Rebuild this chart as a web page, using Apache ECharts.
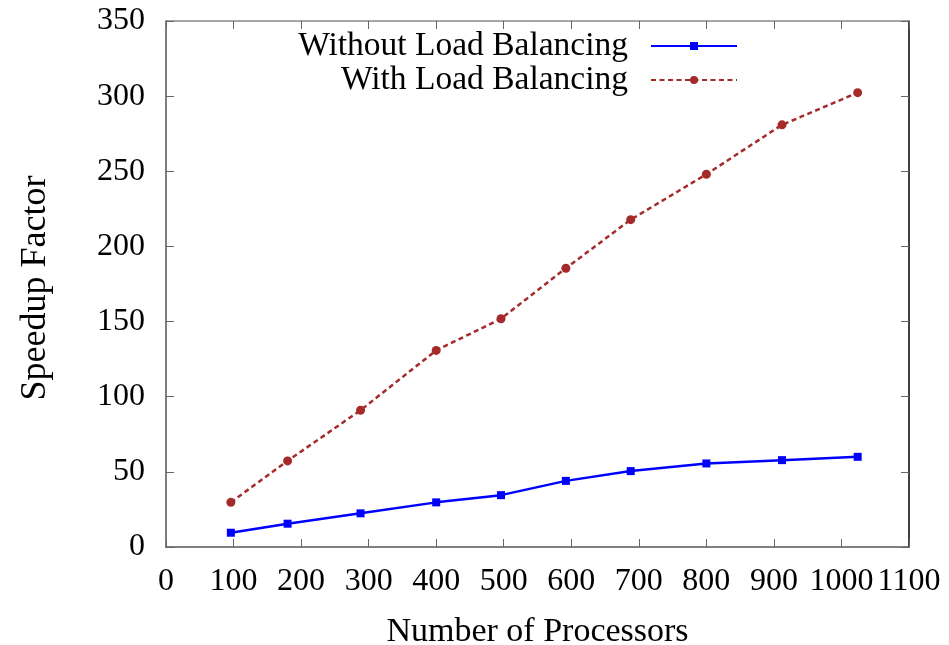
<!DOCTYPE html>
<html>
<head>
<meta charset="utf-8">
<script src="https://cdn.jsdelivr.net/npm/echarts@6/dist/echarts.min.js"></script>
<style>
  html, body { margin: 0; padding: 0; background: #fff; }
  #chart { width: 949px; height: 645px; }
</style>
</head>
<body>
<div id="chart"></div>
<script>
// Processor counts and measured speedups
const processors = [96, 180, 288, 400, 496, 592, 688, 800, 912, 1024];
const withoutLB = [9.5, 15.5, 22.4, 29.7, 34.5, 44, 50.5, 55.6, 57.8, 60];
const withLB = [29.7, 57.3, 91, 130.8, 151.9, 185.5, 217.8, 248, 280.9, 302.3];
const seriesNames = ['Without Load Balancing', 'With Load Balancing'];
const xTitle = 'Number of Processors';
const yTitle = 'Speedup Factor';

const serif = '"Liberation Serif", "DejaVu Serif", serif';

const pairs = (xs, ys) => xs.map((x, i) => [x, ys[i]]);
const plain = v => String(v);

const chart = echarts.init(document.getElementById('chart'), null, { renderer: 'canvas' });

const legendText = { fontFamily: serif, fontSize: 33.5, color: '#000', padding: [0, 18, 0, 0] };

chart.setOption({
  animation: false,
  backgroundColor: '#fff',
  grid: { left: 166, right: 40, top: 21, bottom: 98, containLabel: false, outerBoundsMode: 'none' },
  legend: [
    {
      data: [seriesNames[0]], right: 211, top: 29, orient: 'vertical', align: 'right', padding: 0,
      itemWidth: 86, itemHeight: 10, textStyle: legendText, selectedMode: false
    },
    {
      data: [seriesNames[1]], right: 211, top: 63, orient: 'vertical', align: 'right', padding: 0,
      itemWidth: 86, itemHeight: 10, textStyle: legendText, selectedMode: false
    }
  ],
  xAxis: [
    {
      type: 'value', min: 0, max: 1100, interval: 100, position: 'bottom',
      name: xTitle, nameLocation: 'middle', nameGap: 68,
      nameTextStyle: { fontFamily: serif, fontSize: 34, color: '#000' },
      axisLine: { show: true, onZero: false, lineStyle: { color: '#555', width: 1.5 } },
      axisTick: { show: true, inside: true, length: 8, lineStyle: { color: '#666', width: 1 } },
      axisLabel: {
        fontFamily: serif, fontSize: 32, color: '#000', margin: 19,
        formatter: plain, showMaxLabel: true, showMinLabel: true, hideOverlap: false
      },
      splitLine: { show: false }
    },
    {
      type: 'value', min: 0, max: 1100, interval: 100, position: 'top',
      axisLine: { show: true, onZero: false, lineStyle: { color: '#888', width: 1.5 } },
      axisTick: { show: true, inside: true, length: 8, lineStyle: { color: '#666', width: 1 } },
      axisLabel: { show: false },
      splitLine: { show: false }
    }
  ],
  yAxis: [
    {
      type: 'value', min: 0, max: 350, interval: 50, position: 'left',
      name: yTitle, nameLocation: 'middle', nameGap: 112, nameRotate: 90,
      nameTextStyle: { fontFamily: serif, fontSize: 36, color: '#000', padding: [0, 8, 0, 0] },
      axisLine: { show: true, onZero: false, lineStyle: { color: '#555', width: 1.5 } },
      axisTick: { show: true, inside: true, length: 8, lineStyle: { color: '#666', width: 1 } },
      axisLabel: { fontFamily: serif, fontSize: 32, color: '#000', margin: 21, formatter: plain },
      splitLine: { show: false }
    },
    {
      type: 'value', min: 0, max: 350, interval: 50, position: 'right',
      axisLine: { show: true, onZero: false, lineStyle: { color: '#000', width: 1.5 } },
      axisTick: { show: true, inside: true, length: 8, lineStyle: { color: '#666', width: 1 } },
      axisLabel: { show: false },
      splitLine: { show: false }
    }
  ],
  series: [
    {
      name: seriesNames[0], type: 'line', xAxisIndex: 0, yAxisIndex: 0,
      data: pairs(processors, withoutLB),
      symbol: 'rect', symbolSize: 8, showAllSymbol: true,
      lineStyle: { color: '#0000ff', width: 2.5 },
      itemStyle: { color: '#0000ff' }
    },
    {
      name: seriesNames[1], type: 'line', xAxisIndex: 0, yAxisIndex: 0,
      data: pairs(processors, withLB),
      symbol: 'circle', symbolSize: 9, showAllSymbol: true,
      lineStyle: { color: '#a52a2a', width: 2.5, type: [5, 3.5] },
      itemStyle: { color: '#a52a2a' }
    }
  ]
});
</script>
</body>
</html>
